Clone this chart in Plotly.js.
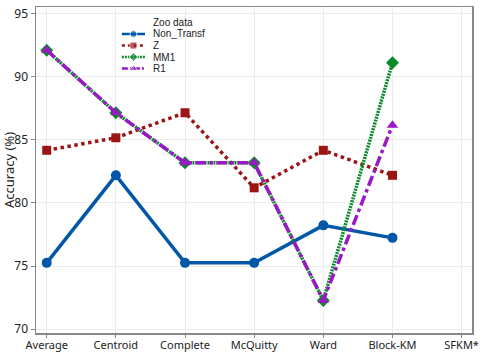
<!DOCTYPE html>
<html><head><meta charset="utf-8">
<script src="https://cdn.plot.ly/plotly-3.0.1.min.js"></script>
<style>html,body{margin:0;padding:0;background:#fff}#c{width:480px;height:353px}</style>
</head><body><div id="c"></div>
<script>
const methods = ["Average","Centroid","Complete","McQuitty","Ward","Block-KM","SFKM*"];
const nonTransf = [75.25, 82.18, 75.25, 75.25, 78.22, 77.23, null];
const zData = [84.16, 85.15, 87.13, 81.19, 84.16, 82.18, null];
const mm1 = [92.08, 87.13, 83.17, 83.17, 72.28, 91.09, null];
const r1 = [92.08, 87.13, 83.17, 83.17, 72.28, 86.14, null];
const seriesNames = ["Non_Transf","Z","MM1","R1"];
const legendTitle = "Zoo data";
const yTicks = [70,75,80,85,90,95];

const styles = [
  {color:"#0057a8", dash:"solid", legDash:"solid", symbol:"circle", size:10},
  {color:"#9b1515", dash:"dot", legDash:"3px,3px", symbol:"square", size:9},
  {color:"#0a8a2a", dash:"2px,1px", legDash:"2px,1px", symbol:"diamond", size:10},
  {color:"#9a19c4", dash:"dashdot", legDash:"6px,2px,2px,2px", symbol:"triangle-up", size:10}
];
const seriesData = [nonTransf, zData, mm1, r1];

const traces = seriesData.map((ys, i) => ({
  x: methods, y: ys, name: seriesNames[i], mode: "lines+markers", showlegend: false,
  line: {color: styles[i].color, width: 3.5, dash: styles[i].dash},
  marker: {symbol: styles[i].symbol, size: styles[i].size, color: styles[i].color}
}));

// compact custom legend drawn on an overlay axis in 0..1 plot-fraction units
const legX0 = 0.197, legX1 = 0.25, legTextX = 0.266;
const legTitleY = 0.9525, legRowStep = 0.0353, legRow0 = 0.9172;
const legFont = {family: "Liberation Sans, Arial, sans-serif", size: 10, color: "#222"};
seriesNames.forEach((nm, i) => {
  const yy = legRow0 - i * legRowStep;
  traces.push({
    x: [legX0, (legX0 + legX1) / 2, legX1], y: [yy, yy, yy], xaxis: "x2", yaxis: "y2",
    mode: "lines+markers", showlegend: false, hoverinfo: "skip",
    line: {color: styles[i].color, width: 2.5, dash: styles[i].legDash},
    marker: {symbol: styles[i].symbol, size: [0, 7, 0], color: styles[i].color}
  });
});
const annotations = [{xref: "x2", yref: "y2", x: legTextX, y: legTitleY, text: legendTitle, showarrow: false,
    xanchor: "left", yanchor: "middle", font: legFont, borderpad: 0}]
  .concat(seriesNames.map((nm, i) => ({xref: "x2", yref: "y2", x: legTextX, y: legRow0 - i * legRowStep, text: nm,
    showarrow: false, xanchor: "left", yanchor: "middle", font: legFont, borderpad: 0})));

const layout = {
  width: 480, height: 353,
  margin: {l: 36, r: 8, t: 7, b: 20},
  paper_bgcolor: "#fff", plot_bgcolor: "#fff",
  font: {family: "Noto Sans, Open Sans, sans-serif", size: 11, color: "#222"},
  showlegend: false,
  annotations: annotations,
  xaxis: {type: "category", categoryarray: methods, range: [-0.155, 6.15],
    showline: true, linecolor: "#888", linewidth: 1.5, mirror: true,
    ticks: "outside", ticklen: 3, tickcolor: "#888", showgrid: true, gridcolor: "#ececec",
    tickfont: {size: 11}, zeroline: false, ticklabelstandoff: -2},
  yaxis: {range: [69.7, 95.5], tickvals: yTicks, ticktext: yTicks.map(String),
    showline: true, linecolor: "#888", linewidth: 1.5, mirror: true,
    ticks: "outside", ticklen: 4, tickcolor: "#888", showgrid: true, gridcolor: "#ececec",
    tickfont: {size: 12}, zeroline: false,
    title: {text: "Accuracy (%)", font: {size: 13}, standoff: 4}},
  xaxis2: {overlaying: "x", range: [0, 1], visible: false, fixedrange: true},
  yaxis2: {overlaying: "y", range: [0, 1], visible: false, fixedrange: true}
};
Plotly.newPlot("c", traces, layout, {displayModeBar: false, staticPlot: true});
</script></body></html>
